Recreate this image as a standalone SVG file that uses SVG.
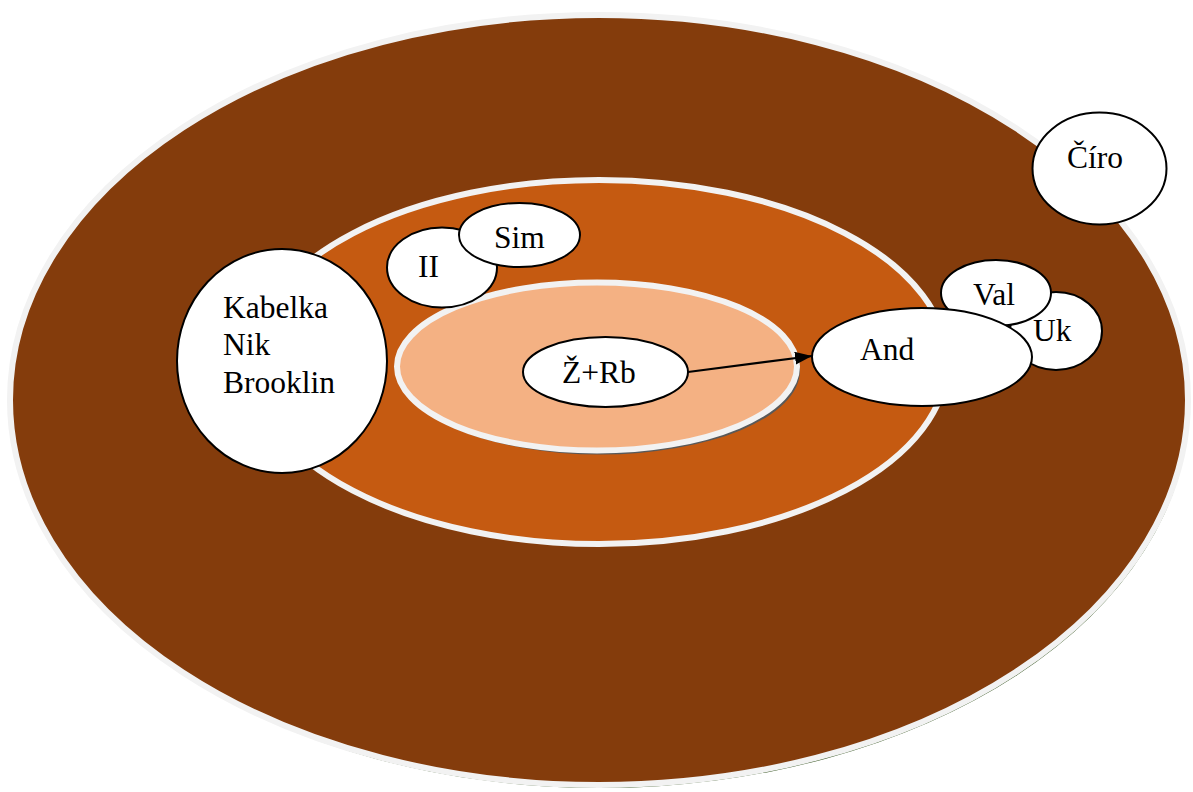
<svg xmlns="http://www.w3.org/2000/svg" width="1193" height="792" viewBox="0 0 1193 792">
<style>
.node{fill:#ffffff;stroke:#000000;stroke-width:2}
.lbl{font-family:"Liberation Serif","Times New Roman",serif;font-size:31.5px;fill:#000000}
.ring{stroke:#f2f2f2;stroke-width:6}
</style>
<defs>
<marker id="arr" markerWidth="17" markerHeight="13" refX="17" refY="6.5" orient="auto" markerUnits="userSpaceOnUse" viewBox="0 0 17 13">
<path d="M0,0 L17,6.5 L0,13 z" fill="#000000"/>
</marker>
</defs>
<rect width="1193" height="792" fill="#ffffff"/>
<g id="outer">
<ellipse cx="600.5" cy="403" rx="589" ry="385" fill="#385723"/>
<ellipse cx="599" cy="400" rx="589" ry="385" fill="#843c0c" class="ring"/>
</g>
<g id="middle">
<ellipse cx="599" cy="362" rx="348" ry="182" fill="#c55a11" class="ring"/>
</g>
<g id="inner">
<ellipse cx="600" cy="370.5" rx="200" ry="84" fill="#595959"/>
<ellipse cx="597" cy="366.5" rx="200" ry="84" fill="#f4b183" class="ring"/>
</g>
<g id="n-kabelka">
<ellipse class="node" cx="282" cy="361" rx="105" ry="112"/>
<text class="lbl" x="223" y="318">Kabelka</text>
<text class="lbl" x="223" y="355">Nik</text>
<text class="lbl" x="223" y="393">Brooklin</text>
</g>
<g id="n-ii">
<ellipse class="node" cx="442" cy="267.5" rx="55" ry="40"/>
<text class="lbl" x="418" y="277">II</text>
</g>
<g id="n-sim">
<ellipse class="node" cx="519.5" cy="235" rx="60.5" ry="32"/>
<text class="lbl" x="494" y="248">Sim</text>
</g>
<g id="n-zrb">
<ellipse class="node" cx="605.5" cy="372" rx="82.5" ry="35"/>
<text class="lbl" x="562" y="383">Ž+Rb</text>
</g>
<g id="n-uk">
<ellipse class="node" cx="1056" cy="331" rx="46" ry="39"/>
<text class="lbl" x="1033" y="341">Uk</text>
</g>
<g id="n-val">
<ellipse class="node" cx="996" cy="293" rx="55" ry="33"/>
<text class="lbl" x="973" y="305">Val</text>
</g>
<g id="n-and">
<ellipse class="node" cx="922" cy="357" rx="110" ry="49"/>
<text class="lbl" x="860" y="360">And</text>
</g>
<g id="n-ciro">
<ellipse class="node" cx="1099.5" cy="168.5" rx="67" ry="56"/>
<text class="lbl" x="1067" y="168">Číro</text>
</g>
<g id="connectors">
<line x1="688" y1="372" x2="812" y2="356" stroke="#000000" stroke-width="2.2" marker-end="url(#arr)"/>
</g>
</svg>
